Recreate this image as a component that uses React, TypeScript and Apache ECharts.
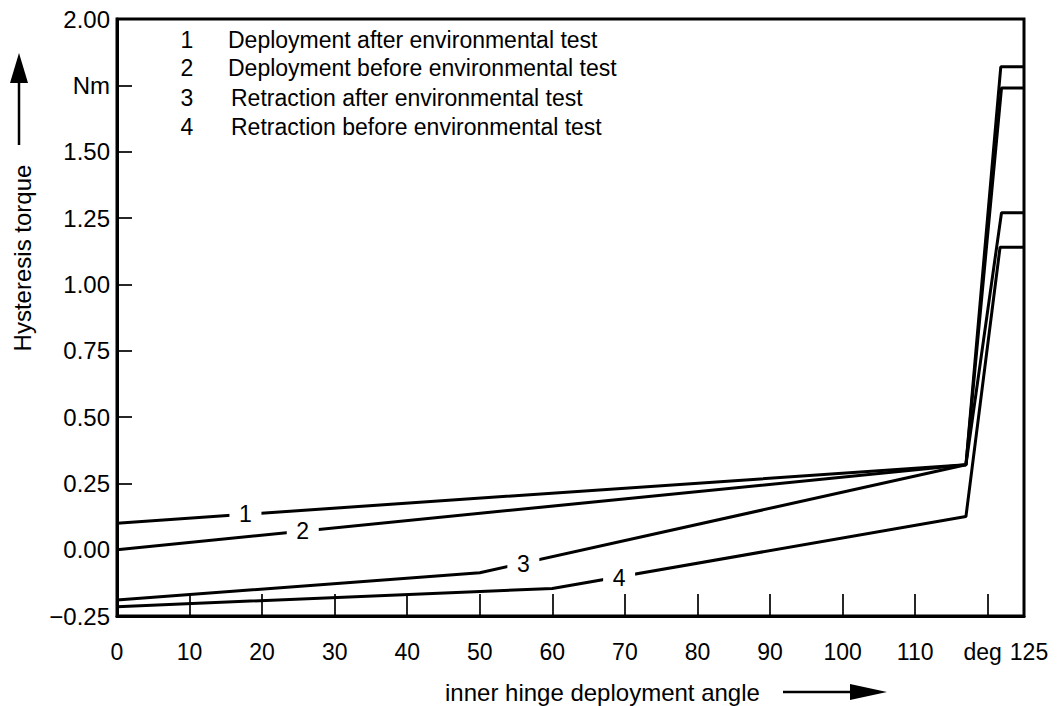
import React, { useEffect, useRef } from "react";
import * as echarts from "echarts";

// Angle (deg) / torque (Nm) points
const s1X = [0, 117, 121.8, 125];
const s1Y = [0.10, 0.32, 1.82, 1.82];
const s2X = [0, 117, 121.9, 125];
const s2Y = [0.0, 0.32, 1.74, 1.74];
const s3X = [0, 50, 117, 121.9, 125];
const s3Y = [-0.19, -0.087, 0.32, 1.27, 1.27];
const s4X = [0, 60, 117, 121.7, 125];
const s4Y = [-0.215, -0.146, 0.125, 1.14, 1.14];

// Inline curve labels (position along each curve)
const curveLabels = ["1", "2", "3", "4"];
const curveLabelX = [17.7, 25.6, 56, 69.2];
const curveLabelY = [0.133, 0.072, -0.055, -0.105];

const legendNums = ["1", "2", "3", "4"];
const legendTexts = [
  "Deployment after environmental test",
  "Deployment before environmental test",
  "Retraction after environmental test",
  "Retraction before environmental test",
];

const xTicks = [10, 20, 30, 40, 50, 60, 70, 80, 90, 100, 110, 120];
const xLabels = [0, 10, 20, 30, 40, 50, 60, 70, 80, 90, 100, 110, 120, 125];
const yTicks = [0.25, 0.5, 0.75, 1.0, 1.25, 1.5, 1.75];

const FONT = "'Liberation Sans', Arial, Helvetica, sans-serif";

function pts(xs: number[], ys: number[]) {
  return xs.map((x, i) => [x, ys[i]]);
}

export default function App() {
  const ref = useRef<HTMLDivElement>(null);
  useEffect(() => {
    if (!ref.current) return;
    const chart = echarts.init(ref.current, undefined, { renderer: "svg" });
    const series: any[] = [pts(s1X, s1Y), pts(s2X, s2Y), pts(s3X, s3Y), pts(s4X, s4Y)].map(
      (d, i) => ({
        type: "line",
        data: d,
        symbol: "none",
        lineStyle: { color: "#000", width: 3 },
        z: 2,
        markPoint: {
          symbol: "rect",
          symbolSize: [32, 14],
          itemStyle: { color: "#fff" },
          label: {
            show: true,
            position: "inside",
            color: "#000",
            fontSize: 23,
            fontFamily: FONT,
            formatter: curveLabels[i],
          },
          data: [{ coord: [curveLabelX[i], curveLabelY[i]] }],
          silent: true,
        },
      })
    );
    const legendGraphics: any[] = [];
    const rowY = [40, 68, 98, 127];
    legendNums.forEach((n, i) => {
      const y = rowY[i];
      legendGraphics.push({
        type: "text",
        x: 187,
        y,
        style: { text: n, fontSize: 23, fontFamily: FONT, fill: "#000", align: "center", verticalAlign: "middle" },
      });
      legendGraphics.push({
        type: "text",
        x: i < 2 ? 228 : 231,
        y,
        style: { text: legendTexts[i], fontSize: 23, fontFamily: FONT, fill: "#000", align: "left", verticalAlign: "middle" },
      });
    });
    chart.setOption({
      animation: false,
      backgroundColor: "#fff",
      grid: {
        left: 117,
        right: 39,
        top: 19,
        bottom: 90,
        show: true,
        borderColor: "#000",
        borderWidth: 3,
        backgroundColor: "transparent",
      },
      xAxis: {
        type: "value",
        min: 0,
        max: 125,
        interval: 10,
        axisLine: { show: true, onZero: false, lineStyle: { color: "#000", width: 3 } },
        axisTick: {
          show: true,
          inside: true,
          length: 22,
          customValues: xTicks,
          lineStyle: { color: "#000", width: 1.7 },
        },
        axisLabel: {
          show: true,
          customValues: xLabels,
          showMaxLabel: true,
          hideOverlap: false,
          margin: 24,
          color: "#000",
          fontSize: 23,
          fontFamily: FONT,
          formatter: (v: number) =>
            v === 120 ? "{d|deg}" : v === 125 ? "{n|125}" : String(v),
          rich: {
            d: { fontSize: 23, fontFamily: FONT, color: "#000", padding: [0, 10, 0, 0] },
            n: { fontSize: 23, fontFamily: FONT, color: "#000", padding: [0, 0, 0, 10] },
          },
        },
        splitLine: { show: false },
      },
      yAxis: {
        type: "value",
        min: -0.25,
        max: 2.0,
        interval: 0.25,
        axisLine: { show: true, onZero: false, lineStyle: { color: "#000", width: 3 } },
        axisTick: {
          show: true,
          inside: true,
          length: 15,
          customValues: yTicks,
          lineStyle: { color: "#000", width: 1.7 },
        },
        axisLabel: {
          show: true,
          margin: 7,
          color: "#000",
          fontSize: 24,
          fontFamily: FONT,
          formatter: (v: number) => {
            if (Math.abs(v - 1.75) < 1e-6) return "Nm";
            const s = Math.abs(v).toFixed(2);
            return v < -1e-9 ? "\u2212" + s : s;
          },
        },
        splitLine: { show: false },
      },
      series,
      graphic: [
        ...legendGraphics,
        {
          type: "text",
          x: 22,
          y: 258,
          rotation: Math.PI / 2,
          style: { text: "Hysteresis torque", fontSize: 24, fontFamily: FONT, fill: "#000", align: "center", verticalAlign: "middle" },
        },
        { type: "line", shape: { x1: 19, y1: 145, x2: 19, y2: 80 }, style: { stroke: "#000", lineWidth: 2.5 } },
        { type: "polygon", shape: { points: [[19, 53], [10, 83], [28, 83]] }, style: { fill: "#000" } },
        {
          type: "text",
          x: 445,
          y: 692,
          style: { text: "inner hinge deployment angle", fontSize: 24, fontFamily: FONT, fill: "#000", align: "left", verticalAlign: "middle" },
        },
        { type: "line", shape: { x1: 783, y1: 692, x2: 855, y2: 692 }, style: { stroke: "#000", lineWidth: 2.5 } },
        { type: "polygon", shape: { points: [[887, 692], [850, 684], [850, 700]] }, style: { fill: "#000" } },
      ],
    });
    return () => chart.dispose();
  }, []);
  return (
    <div
      ref={ref}
      style={{ position: "fixed", left: 0, top: 0, width: 1063, height: 706, background: "#fff" }}
    />
  );
}
